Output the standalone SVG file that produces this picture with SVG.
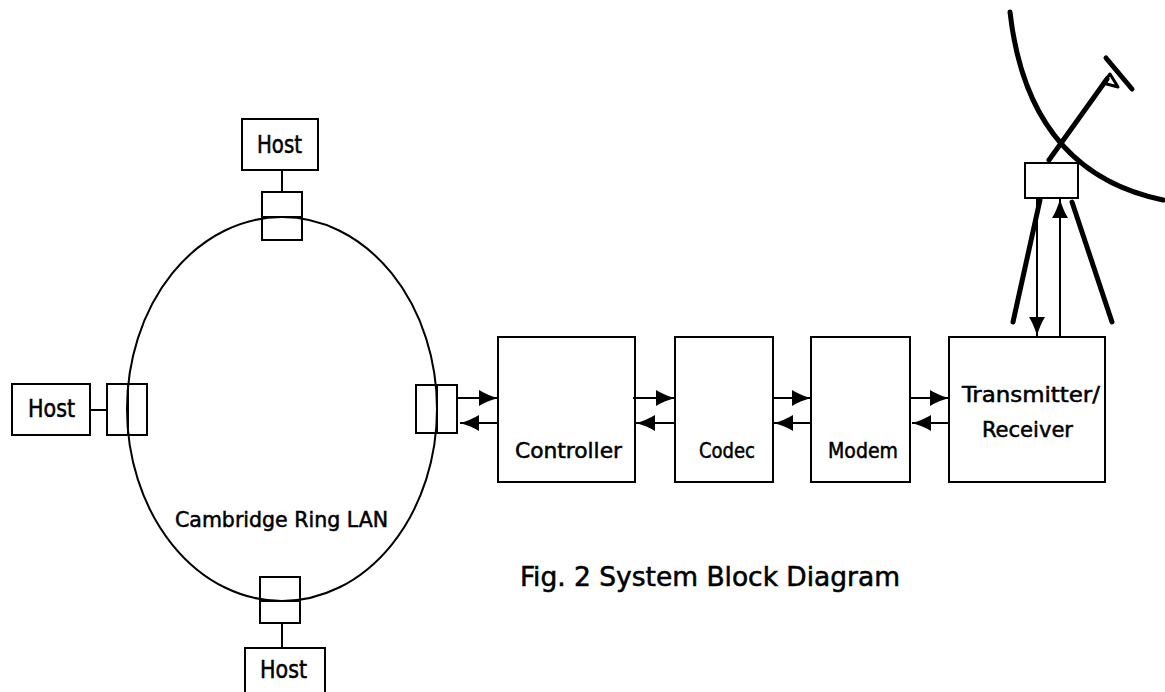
<svg xmlns="http://www.w3.org/2000/svg" width="1165" height="692" viewBox="0 0 1165 692">
  <style>
    .box { fill: #fff; stroke: #000; stroke-width: 2; }
    .wire { fill: none; stroke: #000; stroke-width: 2; }
    .thick { fill: none; stroke: #000; stroke-width: 5; stroke-linecap: round; }
    .lbl { font-family: "DejaVu Sans Condensed", "DejaVu Sans", sans-serif; font-stretch: condensed; fill: #000; stroke: #000; stroke-width: 0.5; }
  </style>
  <defs>
    <marker id="head" markerUnits="userSpaceOnUse" markerWidth="20" markerHeight="20" refX="19" refY="10" orient="auto">
      <path d="M0,2 Q8,7 19,10 Q8,13 0,18 Z" fill="#000"/>
    </marker>
  </defs>
  <rect width="1165" height="692" fill="#fff"/>

  <!-- Cambridge Ring -->
  <g id="ring">
    <ellipse cx="282" cy="409" rx="155" ry="192" class="wire"/>
    <text class="lbl" x="175" y="527" font-size="22" textLength="213" lengthAdjust="spacingAndGlyphs">Cambridge Ring LAN</text>
  </g>

  <!-- Ring stations -->
  <g id="station-top">
    <rect x="262" y="192" width="40" height="48" class="box" fill-opacity="0"/>
    <line x1="262" y1="217" x2="302" y2="217" class="wire"/>
  </g>
  <g id="station-left">
    <rect x="107" y="384" width="40" height="51" class="box" fill-opacity="0"/>
    <line x1="128" y1="384" x2="128" y2="435" class="wire"/>
  </g>
  <g id="station-bottom">
    <rect x="260" y="577" width="40" height="46" class="box" fill-opacity="0"/>
    <line x1="260" y1="601" x2="300" y2="601" class="wire"/>
  </g>
  <g id="station-right">
    <rect x="416" y="385" width="41" height="48" class="box" fill-opacity="0"/>
    <line x1="437" y1="385" x2="437" y2="433" class="wire"/>
  </g>

  <!-- Hosts -->
  <g id="host-top">
    <rect x="242" y="119" width="76" height="51" class="box"/>
    <text class="lbl" x="257" y="153" font-size="24" textLength="45" lengthAdjust="spacingAndGlyphs">Host</text>
  </g>
  <g id="host-left">
    <rect x="12" y="384" width="78" height="51" class="box"/>
    <text class="lbl" x="28" y="417" font-size="24" textLength="47" lengthAdjust="spacingAndGlyphs">Host</text>
  </g>
  <g id="host-bottom">
    <rect x="245" y="648" width="80" height="60" class="box"/>
    <text class="lbl" x="260" y="678" font-size="24" textLength="47" lengthAdjust="spacingAndGlyphs">Host</text>
  </g>

  <!-- Processing chain -->
  <g id="controller">
    <rect x="498" y="337" width="137" height="145" class="box"/>
    <text class="lbl" x="515" y="458" font-size="22" textLength="107" lengthAdjust="spacingAndGlyphs">Controller</text>
  </g>
  <g id="codec">
    <rect x="675" y="337" width="98" height="145" class="box"/>
    <text class="lbl" x="699" y="458" font-size="22" textLength="56" lengthAdjust="spacingAndGlyphs">Codec</text>
  </g>
  <g id="modem">
    <rect x="811" y="337" width="99" height="145" class="box"/>
    <text class="lbl" x="828" y="458" font-size="22" textLength="70" lengthAdjust="spacingAndGlyphs">Modem</text>
  </g>
  <g id="transceiver">
    <rect x="949" y="337" width="156" height="145" class="box"/>
    <text class="lbl" x="962" y="402" font-size="22" textLength="138" lengthAdjust="spacingAndGlyphs">Transmitter/</text>
    <text class="lbl" x="982" y="437" font-size="22" textLength="91" lengthAdjust="spacingAndGlyphs">Receiver</text>
  </g>

  <!-- Antenna: dish, feed arm and tripod -->
  <g id="antenna">
    <path d="M1010,12 Q1028,172 1163,200" class="thick"/>
    <line x1="1049" y1="160" x2="1107" y2="79" class="thick"/>
    <line x1="1106" y1="58" x2="1132" y2="89" class="thick"/>
    <path d="M1103,83 L1110,74 L1118,87 Z" fill="none" stroke="#000" stroke-width="3" stroke-linejoin="round"/>
    <line x1="1040" y1="200" x2="1013" y2="322" class="thick"/>
    <line x1="1072" y1="202" x2="1112" y2="322" class="thick"/>
    <rect x="1025" y="163" width="53" height="35" class="box"/>
  </g>

  <!-- Signal paths -->
  <g id="connectors">
    <line x1="282" y1="170" x2="282" y2="192" class="wire"/>
    <line x1="90" y1="410" x2="107" y2="410" class="wire"/>
    <line x1="282" y1="623" x2="282" y2="648" class="wire"/>

    <line x1="457" y1="398" x2="498" y2="398" class="wire" marker-end="url(#head)"/>
    <line x1="498" y1="423" x2="460" y2="423" class="wire" marker-end="url(#head)"/>
    <line x1="633" y1="398" x2="675" y2="398" class="wire" marker-end="url(#head)"/>
    <line x1="675" y1="423" x2="636" y2="423" class="wire" marker-end="url(#head)"/>
    <line x1="772" y1="398" x2="811" y2="398" class="wire" marker-end="url(#head)"/>
    <line x1="811" y1="423" x2="774" y2="423" class="wire" marker-end="url(#head)"/>
    <line x1="910" y1="398" x2="949" y2="398" class="wire" marker-end="url(#head)"/>
    <line x1="949" y1="423" x2="912" y2="423" class="wire" marker-end="url(#head)"/>

    <line x1="1037" y1="198" x2="1037" y2="336" class="wire" marker-end="url(#head)"/>
    <line x1="1060" y1="337" x2="1060" y2="199" class="wire" marker-end="url(#head)"/>
  </g>

  <text class="lbl" x="520" y="586" font-size="26" stroke-width="0.3" textLength="380" lengthAdjust="spacingAndGlyphs">Fig. 2  System Block Diagram</text>
</svg>
